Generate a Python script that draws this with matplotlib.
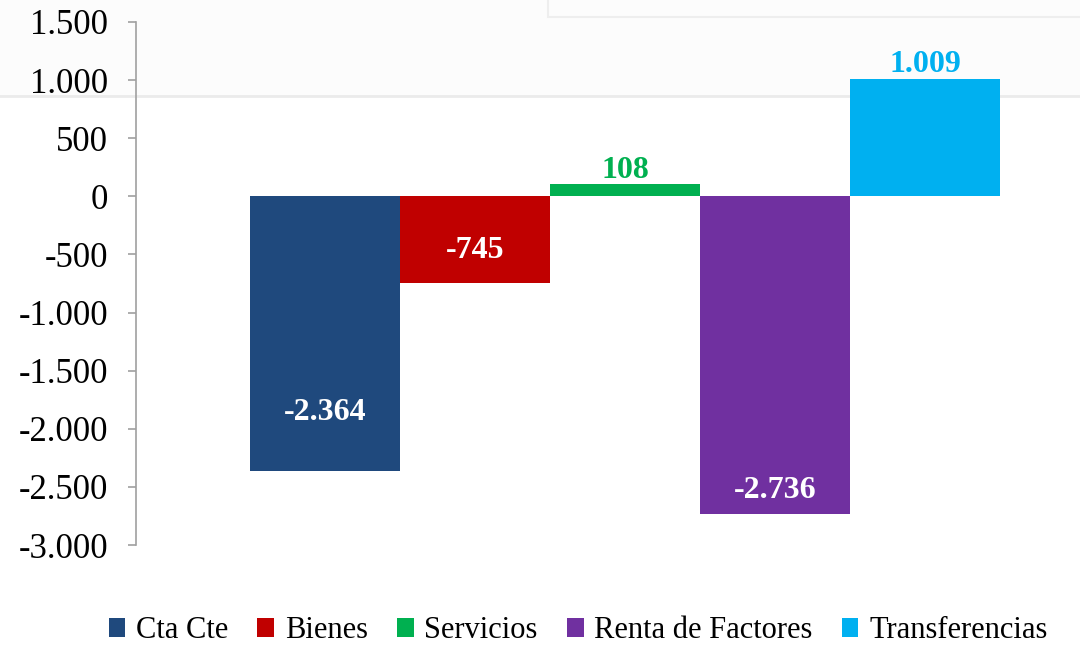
import matplotlib
matplotlib.use("Agg")
import matplotlib.pyplot as plt
from matplotlib.patches import Rectangle

categories = ["Cta Cte", "Bienes", "Servicios", "Renta de Factores", "Transferencias"]
values = [-2364, -745, 108, -2736, 1009]
value_labels = ["-2.364", "-745", "108", "-2.736", "1.009"]
label_y = [-1860, -465, 224, -2530, 1136]
label_colors = ["white", "white", "#00B050", "white", "#00B0F0"]
colors = ["#1F497D", "#C00000", "#00B050", "#7030A0", "#00B0F0"]
yticks = [1500, 1000, 500, 0, -500, -1000, -1500, -2000, -2500, -3000]
ytick_labels = ["1.500", "1.000", "500", "0", "-500", "-1.000", "-1.500", "-2.000", "-2.500", "-3.000"]

plt.rcParams['font.family'] = ['Liberation Serif', 'DejaVu Serif']

fig = plt.figure(figsize=(10.8, 6.47), dpi=100)
fig.patch.set_facecolor("white")

# faint background artifacts in a background axes
bg = fig.add_axes([0, 0, 1, 1], zorder=-5)
bg.set_xlim(0, 1080)
bg.set_ylim(647, 0)
bg.axis("off")
bg.add_patch(Rectangle((0, 0), 1080, 96, facecolor="#fcfcfc", edgecolor="none"))
bg.plot([0, 1080], [96, 96], color="#ebebeb", lw=2)
bg.add_patch(Rectangle((548, -10), 600, 27, facecolor="none", edgecolor="#eeeeee", lw=1.5))

ax = fig.add_axes([136 / 1080, 1 - 545 / 647, 1 - 136 / 1080, (545 - 22) / 647])
ax.set_facecolor("none")

x = list(range(len(categories)))
bars = ax.bar(x, values, width=1.0, color=colors, label=categories, zorder=2)

for xi, ly, txt, c in zip(x, label_y, value_labels, label_colors):
    ax.text(xi, ly, txt, ha="center", va="center", fontsize=23, fontweight="bold", color=c, zorder=3)

ax.set_ylim(-3000, 1500)
ax.set_xlim((136 - 325) / 150, (1080 - 325) / 150)
ax.set_yticks(yticks)
ax.set_yticklabels(ytick_labels, fontsize=25)
ax.tick_params(axis="y", length=6, width=1.2, color="#a0a0a0", pad=14)
ax.set_xticks([])
for s in ["top", "right", "bottom"]:
    ax.spines[s].set_visible(False)
ax.spines["left"].set_color("#a0a0a0")
ax.spines["left"].set_linewidth(1.2)

leg = fig.legend(handles=bars, labels=categories, loc="center", bbox_to_anchor=(578 / 1080, 1 - 631 / 647),
                 ncol=5, frameon=False, fontsize=22, handlelength=0.55, handleheight=0.55,
                 handletextpad=0.35, columnspacing=0.95)

fig.savefig("out.png", dpi=100)
